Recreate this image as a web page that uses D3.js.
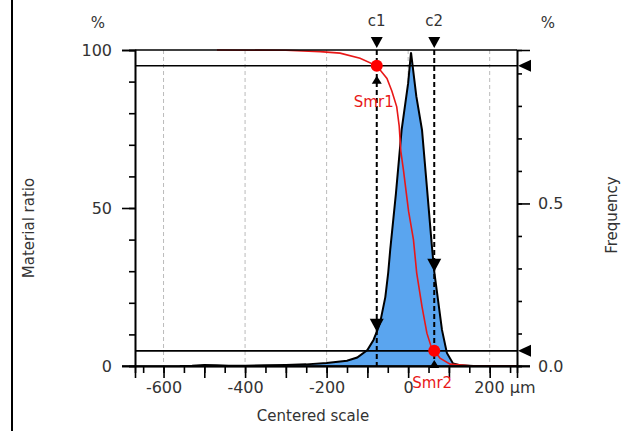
<!DOCTYPE html>
<html><head><meta charset="utf-8">
<script src="https://cdn.jsdelivr.net/npm/d3@7/dist/d3.min.js"></script>
<style>
body{margin:0;background:#fff;}
text{font-family:"DejaVu Sans",Verdana,sans-serif;fill:#333;}
</style></head><body>
<svg id="chart" width="621" height="431"></svg>
<script>
// ---- data ----
const xTickLabels = [-600, -400, -200, 0, 200];
const leftTickLabels = [0, 50, 100];
const rightTickLabels = [0, 0.5];
const freqX = [-560,-530,-500,-470,-440,-400,-350,-300,-250,-200,-150,-125,-100,-85,-77,-69,-56,-49,-44,-30,-16,0,7,20,34,46,58,64,70,83,95,110,130,160,267];
const freqY = [0,0.001,0.003,0.002,0.001,0.001,0.002,0.003,0.005,0.009,0.016,0.026,0.049,0.08,0.105,0.132,0.212,0.286,0.357,0.53,0.726,0.87,0.965,0.83,0.726,0.55,0.372,0.29,0.234,0.111,0.04,0.008,0.002,0,0];
const ratioX = [-469,-300,-216,-167,-118,-77,-52,-40,-28,-22,-18,-11.5,1,13,21,34,46,58,64,78,103,152,267];
const ratioY = [100,99.9,99.5,99,97.4,95,91,87,82,76,68,62,49,40,29.4,18.8,10.4,5.5,4.8,2.5,0.6,0.1,0];
const c1 = -77, c2 = 64;
const smr1 = 95, smr2 = 4.8;

// ---- layout ----
const L = 135, R = 517, T = 50, B = 366;
const svg = d3.select("#chart");
const x = d3.scaleLinear().domain([-670, 267]).range([L, R]);
const y = d3.scaleLinear().domain([0, 100]).range([B, T]);
const yf = d3.scaleLinear().domain([0, 0.972]).range([B, T]);
const interp = (xs, ys, v) => {
  for (let i = 1; i < xs.length; i++) if (v <= xs[i]) {
    const t = (v - xs[i-1]) / (xs[i] - xs[i-1]); return ys[i-1] + t * (ys[i] - ys[i-1]);
  }
  return ys[ys.length - 1];
};

// outer left border
svg.append("line").attr("x1", 12).attr("x2", 12).attr("y1", 0).attr("y2", 431).attr("stroke", "#000").attr("stroke-width", 2);

// grid
svg.append("g").selectAll("line").data(xTickLabels).join("line")
  .attr("x1", d => x(d)).attr("x2", d => x(d)).attr("y1", T).attr("y2", B)
  .attr("stroke", "#bbb").attr("stroke-dasharray", "4,3");

// frequency area
const fData = freqX.map((v, i) => [v, freqY[i]]);
svg.append("path").datum(fData)
  .attr("d", d3.area().x(d => x(d[0])).y0(B).y1(d => yf(d[1])))
  .attr("fill", "#5aa5ef");
svg.append("path").datum(fData)
  .attr("d", d3.line().x(d => x(d[0])).y(d => yf(d[1])))
  .attr("fill", "none").attr("stroke", "#000").attr("stroke-width", 2);

// material ratio curve
const rData = ratioX.map((v, i) => [v, ratioY[i]]);
svg.append("path").datum(rData)
  .attr("d", d3.line().x(d => x(d[0])).y(d => y(d[1])))
  .attr("fill", "none").attr("stroke", "#e81818").attr("stroke-width", 1.6);

// horizontal smr lines
[smr1, smr2].forEach(v => {
  svg.append("line").attr("x1", L).attr("x2", R).attr("y1", y(v)).attr("y2", y(v)).attr("stroke", "#000").attr("stroke-width", 1.6);
  svg.append("path").attr("d", `M${R+1},${y(v)}L${R+14},${y(v)-6}L${R+14},${y(v)+6}Z`).attr("fill", "#000");
});

// c1, c2 dashed lines
[c1, c2].forEach((c, i) => {
  svg.append("line").attr("x1", x(c)).attr("x2", x(c)).attr("y1", T).attr("y2", B)
    .attr("stroke", "#000").attr("stroke-width", 2).attr("stroke-dasharray", "5,3");
  svg.append("path").attr("d", `M${x(c)},${T-2}L${x(c)-6},${T-13}L${x(c)+6},${T-13}Z`).attr("fill", "#000");
  const fy = yf(interp(freqX, freqY, c));
  svg.append("path").attr("d", `M${x(c)},${fy}L${x(c)-7},${fy-13}L${x(c)+7},${fy-13}Z`).attr("fill", "#000");
  svg.append("text").attr("x", x(c)).attr("y", 26).attr("text-anchor", "middle").attr("font-size", 15).text("c" + (i + 1));
});
// small up triangles
svg.append("path").attr("d", `M${x(c1)},${y(smr1)+10}L${x(c1)-5},${y(smr1)+18}L${x(c1)+5},${y(smr1)+18}Z`).attr("fill", "#000");
svg.append("path").attr("d", `M${x(c2)},${B-6}L${x(c2)-5},${B+2}L${x(c2)+5},${B+2}Z`).attr("fill", "#000");

// frame top
svg.append("line").attr("x1", L).attr("x2", R).attr("y1", T).attr("y2", T).attr("stroke", "#000").attr("stroke-width", 1.6);

// axes
const gL = svg.append("g").attr("transform", `translate(${L},0)`)
  .call(d3.axisLeft(y).tickValues(d3.range(0, 101, 10)).tickSize(6).tickFormat(""));
gL.append("g").call(d3.axisLeft(y).tickValues(leftTickLabels).tickSize(13).tickPadding(10).tickFormat(d3.format("d")));
const gR = svg.append("g").attr("transform", `translate(${R},0)`)
  .call(d3.axisRight(yf).tickValues(d3.range(0, 0.95, 0.1)).tickSize(5).tickFormat(""));
gR.append("g").call(d3.axisRight(yf).tickValues(rightTickLabels).tickSize(13).tickPadding(8).tickFormat(d3.format(".1f")));
const gB = svg.append("g").attr("transform", `translate(0,${B})`)
  .call(d3.axisBottom(x).tickValues(d3.range(-650, 267, 50)).tickSize(7).tickFormat(""));
gB.append("g").call(d3.axisBottom(x).tickValues(d3.range(-600, 267, 100)).tickSize(12).tickFormat(""));
gB.append("g").call(d3.axisBottom(x).tickValues(xTickLabels).tickSize(0).tickPadding(16).tickFormat(d => d === 200 ? "200 µm" : d));
svg.selectAll(".domain").attr("stroke", "#000").attr("stroke-width", 1.6);
svg.selectAll(".tick line").attr("stroke", "#000").attr("stroke-width", 1.6);
svg.selectAll(".tick text").attr("font-size", 16).attr("fill", "#333").attr("font-family", '"DejaVu Sans",Verdana,sans-serif');
gB.selectAll(".tick text").filter(d => d === 200).attr("text-anchor", "start").attr("dx", -16);
svg.append("line").attr("x1", L - 13).attr("x2", R + 13).attr("y1", B).attr("y2", B).attr("stroke", "#000").attr("stroke-width", 1.6);

// smr points
[[c1, smr1], [c2, smr2]].forEach(p => {
  svg.append("circle").attr("cx", x(p[0])).attr("cy", y(p[1])).attr("r", 6).attr("fill", "#f00");
});
svg.append("text").attr("x", x(c1) - 3).attr("y", y(smr1) + 41).attr("text-anchor", "middle").attr("font-size", 15).style("fill", "#e81818").text("Smr1");
svg.append("text").attr("x", x(c2) - 2).attr("y", B + 22).attr("text-anchor", "middle").attr("font-size", 15).style("fill", "#e81818").text("Smr2");

// units and titles
svg.append("text").attr("x", 98).attr("y", 28).attr("text-anchor", "middle").attr("font-size", 15).text("%");
svg.append("text").attr("x", 548).attr("y", 28).attr("text-anchor", "middle").attr("font-size", 15).text("%");
svg.append("text").attr("transform", "translate(34,228) rotate(-90)").attr("text-anchor", "middle").attr("font-size", 15).text("Material ratio");
svg.append("text").attr("transform", "translate(617,215) rotate(-90)").attr("text-anchor", "middle").attr("font-size", 15).text("Frequency");
svg.append("text").attr("x", 313).attr("y", 421).attr("text-anchor", "middle").attr("font-size", 15).text("Centered scale");
</script></body></html>
